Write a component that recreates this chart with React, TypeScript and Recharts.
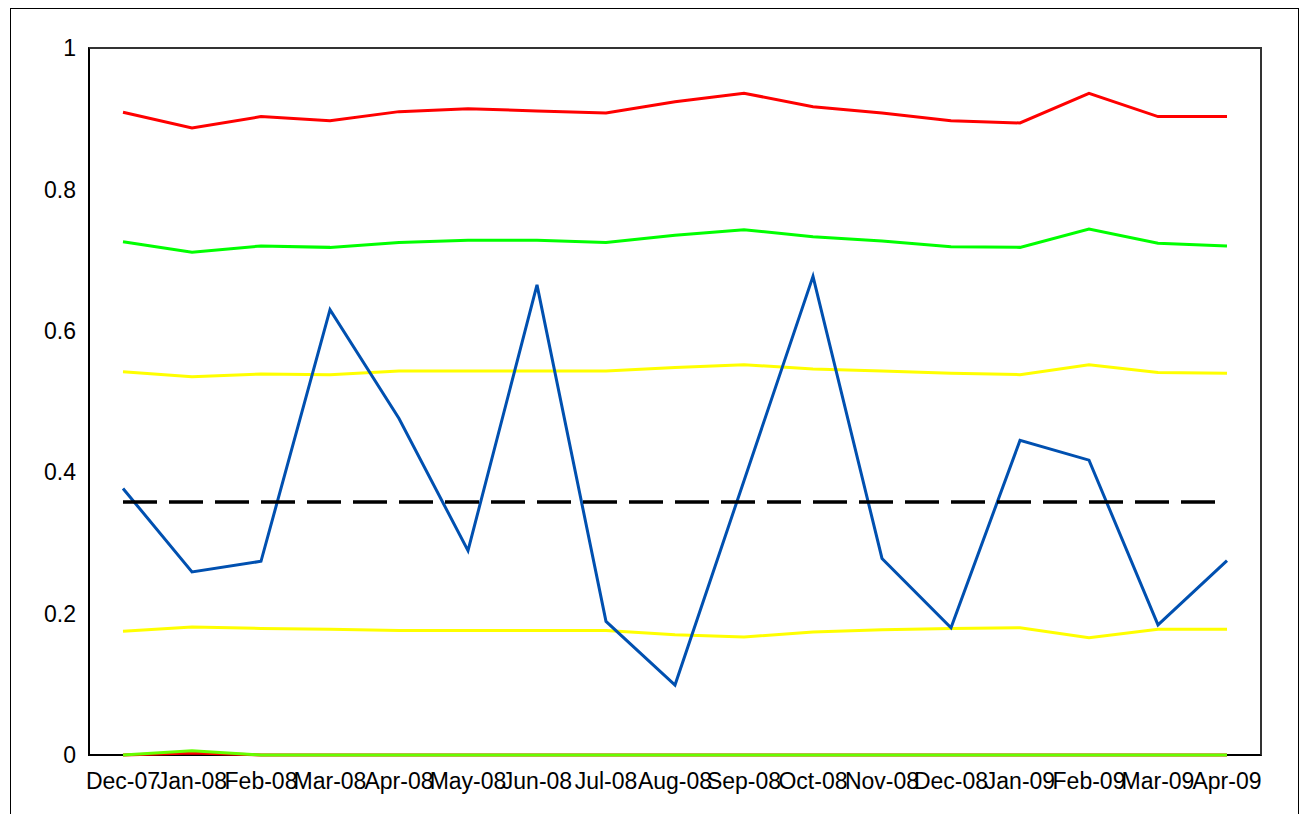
import React from 'react';
import { LineChart, Line, XAxis, YAxis } from 'recharts';

const categories = ['Dec-07','Jan-08','Feb-08','Mar-08','Apr-08','May-08','Jun-08','Jul-08','Aug-08','Sep-08','Oct-08','Nov-08','Dec-08','Jan-09','Feb-09','Mar-09','Apr-09'];
const redUpper = [0.909, 0.887, 0.903, 0.897, 0.910, 0.914, 0.911, 0.908, 0.924, 0.936, 0.917, 0.908, 0.897, 0.894, 0.936, 0.903, 0.903];
const greenUpper = [0.726, 0.711, 0.720, 0.718, 0.725, 0.728, 0.728, 0.725, 0.735, 0.743, 0.733, 0.727, 0.719, 0.718, 0.744, 0.724, 0.720];
const yellowUpper = [0.542, 0.535, 0.539, 0.538, 0.543, 0.543, 0.543, 0.543, 0.548, 0.552, 0.546, 0.543, 0.540, 0.538, 0.552, 0.541, 0.540];
const actual = [0.377, 0.259, 0.274, 0.630, 0.476, 0.289, 0.665, 0.189, 0.099, 0.388, 0.677, 0.278, 0.180, 0.445, 0.417, 0.184, 0.275];
const mean = [0.358, 0.358, 0.358, 0.358, 0.358, 0.358, 0.358, 0.358, 0.358, 0.358, 0.358, 0.358, 0.358, 0.358, 0.358, 0.358, 0.358];
const yellowLower = [0.175, 0.181, 0.179, 0.178, 0.176, 0.176, 0.176, 0.176, 0.170, 0.167, 0.174, 0.177, 0.179, 0.180, 0.166, 0.178, 0.178];
const redLower = [0, 0.003, 0, 0, 0, 0, 0, 0, 0, 0, 0, 0, 0, 0, 0, 0, 0];
const greenLower = [0, 0.006, 0, 0, 0, 0, 0, 0, 0, 0, 0, 0, 0, 0, 0, 0, 0];
const yTicks = [0, 0.2, 0.4, 0.6, 0.8, 1];

const data = categories.map((c, i) => ({
  month: c,
  redUpper: redUpper[i],
  greenUpper: greenUpper[i],
  yellowUpper: yellowUpper[i],
  actual: actual[i],
  mean: mean[i],
  yellowLower: yellowLower[i],
  redLower: redLower[i],
  greenLower: greenLower[i],
}));

const font = { fontFamily: '"Liberation Sans", Arial, sans-serif', fontSize: 23, fill: '#000' };

export default function App() {
  return (
    <div style={{ position: 'fixed', left: 0, top: 0, width: 1304, height: 814, overflow: 'hidden', background: '#fff' }}>
      <div style={{ position: 'absolute', left: 10, top: 8, width: 1289, height: 830, border: '1px solid #000', boxSizing: 'border-box' }} />
      <div
        style={{
          position: 'absolute',
          left: 88,
          top: 47,
          width: 1174,
          height: 709,
          boxSizing: 'border-box',
          borderLeft: '2px solid #000',
          borderBottom: '2px solid #000',
          borderTop: '2px solid #333',
          borderRight: '2px solid #333',
        }}
      />
      <div style={{ position: 'absolute', left: 0, top: 0 }}>
        <LineChart width={1304} height={814} data={data} margin={{ top: 48, right: 43, bottom: 29, left: 0 }}>
          <XAxis
            dataKey="month"
            interval={0}
            padding={{ left: 34, right: 34 }}
            tickLine={false}
            tickSize={6}
            tickMargin={12}
            height={30}
            axisLine={false}
            tick={font}
          />
          <YAxis
            type="number"
            domain={[0, 1]}
            ticks={yTicks}
            width={89}
            tickLine={false}
            tickSize={6}
            tickMargin={7}
            axisLine={false}
            tick={font}
          />
          <Line dataKey="redLower" stroke="#ff0000" strokeWidth={3} dot={false} isAnimationActive={false} />
          <Line dataKey="greenLower" stroke="#66ff00" strokeWidth={3} dot={false} isAnimationActive={false} />
          <Line dataKey="redUpper" stroke="#ff0000" strokeWidth={3} dot={false} isAnimationActive={false} />
          <Line dataKey="greenUpper" stroke="#00ff00" strokeWidth={3} dot={false} isAnimationActive={false} />
          <Line dataKey="yellowUpper" stroke="#ffff00" strokeWidth={3} dot={false} isAnimationActive={false} />
          <Line dataKey="yellowLower" stroke="#ffff00" strokeWidth={3} dot={false} isAnimationActive={false} />
          <Line dataKey="actual" stroke="#0050b0" strokeWidth={3} dot={false} isAnimationActive={false} />
          <Line dataKey="mean" stroke="#000000" strokeWidth={3.5} strokeDasharray="34 12" dot={false} isAnimationActive={false} />
        </LineChart>
      </div>
    </div>
  );
}
